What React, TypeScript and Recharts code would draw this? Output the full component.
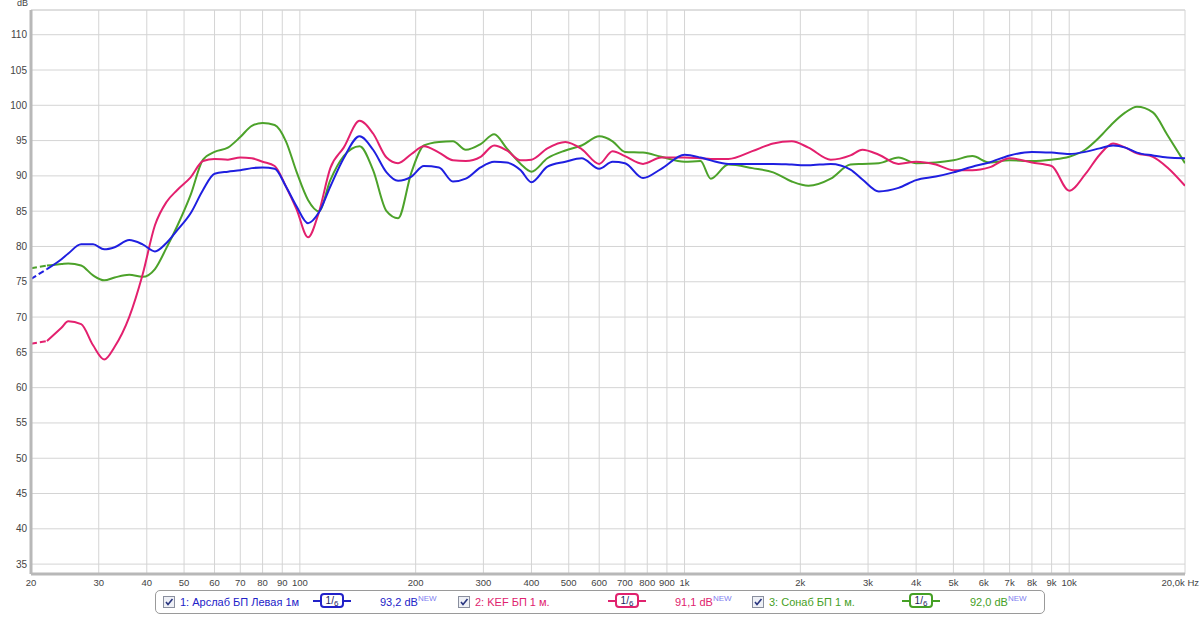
import React from 'react';
import { LineChart, Line, XAxis, YAxis, CartesianGrid, ReferenceLine } from 'recharts';

// frequency points (Hz) and SPL readings (dB) for the three measurements
const freqs = [
  20, 22, 24, 25, 27, 29, 31, 33, 36, 39, 42, 45, 48, 52, 56, 60, 65, 70, 75, 80,
  86, 92, 98, 105, 112, 120, 130, 143, 155, 168, 180, 195, 210, 230, 250, 270, 295, 320, 345, 375,
  400, 440, 490, 540, 600, 650, 700, 780, 870, 1000, 1100, 1170, 1300, 1500, 1700, 1900, 2100, 2400, 2700, 2900,
  3200, 3600, 4000, 4500, 5000, 5600, 6200, 7000, 8000, 9000, 10000, 11000, 12000, 13000, 14000, 15000, 16500, 18000, 20000,
];

const arslab = [
  75.4, 76.8, 78.2, 79.0, 80.3, 80.3, 79.6, 79.9, 80.9, 80.3, 79.3, 80.5, 82.3, 84.7, 88.0, 90.3, 90.6, 90.8, 91.1, 91.2,
  91.0, 88.5, 85.7, 83.3, 84.8, 88.5, 92.5, 95.6, 93.7, 90.5, 89.3, 89.9, 91.4, 91.2, 89.2, 89.6, 91.2, 92.0, 91.9, 90.8,
  89.1, 91.3, 92.0, 92.5, 91.0, 92.0, 91.8, 89.7, 91.0, 93.0, 92.6, 92.2, 91.7, 91.7, 91.7, 91.6, 91.5, 91.7, 90.9, 89.5,
  87.8, 88.3, 89.4, 89.9, 90.5, 91.3, 91.9, 92.9, 93.4, 93.3, 93.1, 93.4, 93.9, 94.3, 94.0, 93.3, 92.9, 92.6, 92.5,
];

const kef = [
  66.2, 66.6, 68.5, 69.4, 69.0, 66.0, 64.0, 65.8, 70.0, 76.0, 83.0, 86.3, 88.0, 89.8, 92.1, 92.4, 92.3, 92.6, 92.5, 92.0,
  91.4, 88.5, 85.3, 81.3, 84.8, 91.1, 94.0, 97.8, 96.0, 92.6, 91.8, 93.1, 94.2, 93.3, 92.2, 92.1, 92.7, 94.3, 93.6, 92.2,
  92.3, 93.9, 94.8, 93.8, 91.7, 93.5, 92.8, 91.7, 92.6, 92.6, 92.5, 92.4, 92.4, 93.5, 94.6, 94.9, 94.0, 92.3, 92.9, 93.7,
  93.0, 91.7, 92.0, 91.6, 90.8, 90.8, 91.2, 92.5, 91.9, 91.4, 87.9, 90.2, 93.0, 94.6, 94.0, 93.2, 92.7, 91.2, 88.6,
];

const sonab = [
  76.9, 77.3, 77.5, 77.6, 77.3, 75.9, 75.2, 75.6, 76.0, 75.7, 76.8, 79.8, 82.9, 87.3, 92.3, 93.4, 94.0, 95.5, 97.1, 97.5,
  97.2, 94.9, 90.6, 86.6, 85.0, 89.4, 92.8, 94.2, 90.8, 85.0, 84.0, 90.5, 94.3, 94.8, 94.9, 93.7, 94.5, 95.9, 93.9, 91.7,
  90.6, 92.5, 93.6, 94.3, 95.6, 94.9, 93.4, 93.3, 92.7, 92.0, 92.1, 89.6, 91.6, 91.1, 90.5, 89.2, 88.6, 89.6, 91.6, 91.7,
  91.8, 92.6, 91.8, 91.9, 92.2, 92.8, 91.9, 92.2, 92.1, 92.3, 92.7, 93.7, 95.5, 97.5, 99.0, 99.8, 99.0, 95.8, 91.8,
];

const xTicks = [20, 30, 40, 50, 60, 70, 80, 90, 100, 200, 300, 400, 500, 600, 700, 800, 900, 1000, 2000, 3000, 4000, 5000, 6000, 7000, 8000, 9000, 10000, 20000];
const xTickLabels = ['20', '30', '40', '50', '60', '70', '80', '90', '100', '200', '300', '400', '500', '600', '700', '800', '900', '1k', '2k', '3k', '4k', '5k', '6k', '7k', '8k', '9k', '10k', '20,0k Hz'];
const yTicks = [35, 40, 45, 50, 55, 60, 65, 70, 75, 80, 85, 90, 95, 100, 105, 110];

const legendItems = [
  { name: '1: Арслаб БП Левая 1м', value: '93,2 dB', color: '#2222c8' },
  { name: '2: KEF БП 1 м.', value: '91,1 dB', color: '#e0226e' },
  { name: '3: Сонаб БП 1 м.', value: '92,0 dB', color: '#45a025' },
];

const FONT = '"Liberation Sans", Arial, sans-serif';

const data = freqs.map((f, i) => ({ f, a: arslab[i], b: kef[i], c: sonab[i] }));
const lead = data.slice(0, 2);
const body = data.slice(1);

function XTick({ x, y, payload }: any) {
  const idx = xTicks.indexOf(payload.value);
  const last = idx === xTicks.length - 1;
  return (
    <text
      x={last ? 1199 : x}
      y={y + 12}
      textAnchor={last ? 'end' : 'middle'}
      fontSize={9.5}
      fill="#444"
      fontFamily={FONT}
    >
      {xTickLabels[idx]}
    </text>
  );
}

function YTick({ x, y, payload }: any) {
  return (
    <text x={x} y={y + 3.5} textAnchor="end" fontSize={10} fill="#444" fontFamily={FONT}>
      {payload.value}
    </text>
  );
}

function CheckBox() {
  return (
    <svg width={12} height={12} style={{ display: 'block' }}>
      <rect x={0.5} y={0.5} width={11} height={11} fill="#eef0f6" stroke="#8a8f9e" />
      <path d="M3 6 L5 8.5 L9.5 3" stroke="#2a3680" strokeWidth={1.6} fill="none" />
    </svg>
  );
}

function Badge({ color }: { color: string }) {
  return (
    <div style={{ display: 'flex', alignItems: 'center' }}>
      <div style={{ width: 7, height: 2, background: color }} />
      <div
        style={{
          border: `2px solid ${color}`,
          borderRadius: 4,
          width: 20,
          height: 11,
          fontSize: 10,
          lineHeight: '11px',
          color: '#1a1a60',
          textAlign: 'center',
          fontFamily: FONT,
        }}
      >
        <span>1</span>
        <span>/</span>
        <span style={{ fontSize: 8, position: 'relative', top: 2 }}>6</span>
      </div>
      <div style={{ width: 7, height: 2, background: color }} />
    </div>
  );
}

const legendPos = [
  { cb: 163, text: 180, badge: 313, value: 380 },
  { cb: 458, text: 475, badge: 608, value: 675 },
  { cb: 752, text: 769, badge: 902, value: 970 },
];

export default function App() {
  return (
    <div style={{ position: 'absolute', left: 0, top: 0, width: 1200, height: 617, background: '#fff', fontFamily: FONT }}>
      <div style={{ position: 'absolute', left: 17, top: -2, fontSize: 9, color: '#444' }}>dB</div>
      <LineChart width={1200} height={590} data={body} margin={{ top: 10, right: 15, bottom: 0, left: 0 }}>
        <CartesianGrid stroke="#d4d4d4" strokeWidth={1} />
        <XAxis
          dataKey="f"
          type="number"
          scale="log"
          domain={[20, 20000]}
          ticks={xTicks}
          interval={0}
          allowDataOverflow
          height={16}
          tickSize={0}
          tickMargin={0}
          tick={<XTick />}
          axisLine={{ stroke: '#b8b8b8', strokeWidth: 3 }}
        />
        <YAxis
          type="number"
          domain={[33.6, 113.5]}
          ticks={yTicks}
          interval={0}
          allowDataOverflow
          width={31}
          tickSize={0}
          tickMargin={4}
          tick={<YTick />}
          axisLine={{ stroke: '#b8b8b8', strokeWidth: 3 }}
        />
        <ReferenceLine y={113.5} stroke="#d4d4d4" />
        <Line data={lead} dataKey="c" type="monotone" stroke="#4ca22a" strokeWidth={2} strokeDasharray="6 3" dot={false} isAnimationActive={false} />
        <Line data={lead} dataKey="b" type="monotone" stroke="#e3206e" strokeWidth={2} strokeDasharray="6 3" dot={false} isAnimationActive={false} />
        <Line data={lead} dataKey="a" type="monotone" stroke="#1f1fe0" strokeWidth={2} strokeDasharray="6 3" dot={false} isAnimationActive={false} />
        <Line dataKey="c" type="monotone" stroke="#4ca22a" strokeWidth={2} dot={false} isAnimationActive={false} />
        <Line dataKey="b" type="monotone" stroke="#e3206e" strokeWidth={2} dot={false} isAnimationActive={false} />
        <Line dataKey="a" type="monotone" stroke="#1f1fe0" strokeWidth={2} dot={false} isAnimationActive={false} />
      </LineChart>
      <div
        style={{
          position: 'absolute',
          left: 155,
          top: 590,
          width: 890,
          height: 24,
          border: '1px solid #9a9a9a',
          borderRadius: 5,
          boxSizing: 'border-box',
        }}
      />
      {legendItems.map((it, i) => {
        const p = legendPos[i];
        return (
          <React.Fragment key={it.name}>
            <div style={{ position: 'absolute', left: p.cb, top: 596 }}>
              <CheckBox />
            </div>
            <div style={{ position: 'absolute', left: p.text, top: 595, fontSize: 11, lineHeight: '14px', color: it.color, whiteSpace: 'nowrap' }}>
              {it.name}
            </div>
            <div style={{ position: 'absolute', left: p.badge, top: 593 }}>
              <Badge color={it.color} />
            </div>
            <div style={{ position: 'absolute', left: p.value, top: 595, fontSize: 11, lineHeight: '14px', color: it.color, whiteSpace: 'nowrap' }}>
              {it.value}
              <span style={{ fontSize: 8, color: '#8080f0', position: 'relative', top: -5 }}>NEW</span>
            </div>
          </React.Fragment>
        );
      })}
    </div>
  );
}
